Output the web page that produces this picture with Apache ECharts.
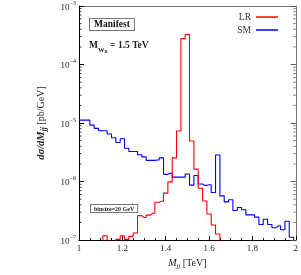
<!DOCTYPE html>
<html><head><meta charset="utf-8">
<script src="https://cdn.jsdelivr.net/npm/echarts@6/dist/echarts.min.js"></script>
<style>html,body{margin:0;padding:0;background:#fff}#c{width:301px;height:275px}</style>
</head><body><div id="c"></div>
<script>
// bin centres in TeV (20 GeV bins)
const binCenters = [1.00,1.02,1.04,1.06,1.08,1.10,1.12,1.14,1.16,1.18,1.20,1.22,1.24,1.26,1.28,1.30,1.32,1.34,1.36,1.38,1.40,1.42,1.44,1.46,1.48,1.50,1.52,1.54,1.56,1.58,1.60,1.62,1.64,1.66,1.68,1.70,1.72,1.74,1.76,1.78,1.80,1.82,1.84,1.86,1.88,1.90,1.92,1.94,1.96,1.98,2.00];
// dσ/dMjj [pb/GeV]
const lrValues = [0,0,0,0,0,0,1.19e-7,0,0,1.03e-7,1.19e-7,1.03e-7,1.16e-7,1.32e-7,2.62e-7,2.43e-7,2.67e-7,2.88e-7,4.44e-7,4.61e-7,6.36e-7,9.9e-7,2.54e-6,7.3e-6,2.77e-4,3.26e-4,4.94e-6,1.63e-6,7.7e-7,4.65e-7,2.8e-7,1.81e-7,1.27e-7,0,0,0,0,0,0,0,0,0,0,0,0,0,0,0,0,0,0];
const smValues = [1.12e-5,1.12e-5,1.12e-5,9.2e-6,8.1e-6,7.4e-6,7.4e-6,6.5e-6,5.6e-6,4.65e-6,5.4e-6,3.7e-6,3.26e-6,3.26e-6,2.88e-6,2.64e-6,2.3e-6,2.3e-6,2.34e-6,2.54e-6,1.33e-6,1.38e-6,1.19e-6,1.19e-6,1.19e-6,1.35e-6,8.7e-7,1.27e-6,9.1e-7,8.6e-7,8.8e-7,6.5e-7,2.84e-6,5.7e-7,4.5e-7,4.9e-7,3.2e-7,3.6e-7,3.3e-7,2.7e-7,2.7e-7,2.47e-7,1.85e-7,2.27e-7,1.85e-7,1.63e-7,1.76e-7,1.5e-7,2.1e-7,1.12e-7,0];
const seriesNames = ['LR','SM'];
const xRange = [1, 2];
const yRange = [1e-7, 1e-3];
const xTickLabels = ['1','1.2','1.4','1.6','1.8','2'];

const FONT = 'Liberation Serif';
const floorV = 1e-9;
function pts(vals){ return binCenters.map((x,i)=>[x, vals[i] > 0 ? vals[i] : floorV]); }

// minor log ticks (2..9 per decade)
const minorTicks = [];
for (let e = -7; e < -3; e++) for (let m = 2; m <= 9; m++) minorTicks.push([xRange[0], m*Math.pow(10,e)]);

const chart = echarts.init(document.getElementById('c'), null, {renderer:'canvas'});
const supRich = {
  b:{fontFamily:FONT,fontSize:9,color:'#222',verticalAlign:'bottom',lineHeight:12},
  e:{fontFamily:FONT,fontSize:6,color:'#222',verticalAlign:'top',lineHeight:7}
};
chart.setOption({
  animation:false,
  grid:{left:79,right:5,top:5,bottom:26},
  legend:{
    data:seriesNames.map(n=>({name:n, icon:'rect'})), orient:'vertical', right:18, top:7, align:'right',
    itemWidth:22, itemHeight:1.5, itemGap:3,
    textStyle:{fontFamily:FONT,fontSize:9.5,color:'#333'}
  },
  xAxis:[{
    type:'value', min:xRange[0], max:xRange[1], interval:0.2,
    axisLine:{lineStyle:{color:'#000',width:1}},
    axisTick:{inside:true,length:4,lineStyle:{color:'#000'}},
    minorTick:{show:true,splitNumber:4,length:2,lineStyle:{color:'#000'}},
    splitLine:{show:false},
    axisLabel:{margin:4,fontFamily:FONT,fontSize:9,color:'#222',
      formatter:(v)=>{const i=Math.round((v-xRange[0])/0.2);return xTickLabels[i]!==undefined?xTickLabels[i]:'';}},
    name:'{i|M}{s|jj}{n| [TeV]}', nameLocation:'middle', nameGap:12,
    nameTextStyle:{rich:{
      i:{fontFamily:FONT,fontStyle:'italic',fontSize:10,color:'#222',verticalAlign:'top',lineHeight:12},
      s:{fontFamily:FONT,fontStyle:'italic',fontSize:7,color:'#222',verticalAlign:'bottom',lineHeight:12},
      n:{fontFamily:FONT,fontSize:10,color:'#222',verticalAlign:'top',lineHeight:12}
    }}
  },{
    type:'value', position:'top', min:xRange[0], max:xRange[1],
    axisLine:{show:true,lineStyle:{color:'#777'}}, axisTick:{show:false}, axisLabel:{show:false}, splitLine:{show:false}
  }],
  yAxis:[{
    type:'log', logBase:10, min:yRange[0], max:yRange[1],
    axisLine:{show:true,lineStyle:{color:'#000'}},
    axisTick:{inside:true,length:5,lineStyle:{color:'#000'}},
    splitLine:{show:false},
    axisLabel:{margin:3,formatter:(v)=>'{b|10}{e|−'+Math.abs(Math.round(Math.log10(v)))+'}',rich:supRich},
    name:'{i|dσ/dM}{s|jj}{n| [pb/GeV]}', nameLocation:'middle', nameGap:31, nameRotate:90,
    nameTextStyle:{rich:{
      i:{fontFamily:FONT,fontStyle:'italic',fontWeight:'bold',fontSize:10.5,color:'#222',verticalAlign:'top',lineHeight:12},
      s:{fontFamily:FONT,fontStyle:'italic',fontWeight:'bold',fontSize:7.5,color:'#222',verticalAlign:'bottom',lineHeight:12},
      n:{fontFamily:FONT,fontSize:10,color:'#222',verticalAlign:'top',lineHeight:12}
    }}
  },{
    type:'log', logBase:10, min:yRange[0], max:yRange[1], position:'right',
    axisLine:{show:true,lineStyle:{color:'#777'}},
    axisTick:{inside:true,length:5,lineStyle:{color:'#555'}},
    axisLabel:{show:false}, splitLine:{show:false}
  }],
  graphic:[
    {type:'text', left:89, top:18, z:10, style:{text:'Manifest', font:'bold 9.5px "Liberation Serif"', fill:'#111',
      padding:[1,4,0,4], borderColor:'#777', borderWidth:1, backgroundColor:'#fff'}},
    {type:'text', left:89, top:41, z:10, style:{text:'{b|M}{s|W}{t|R}{b| = 1.5 TeV}', rich:{
      b:{font:'bold 9.5px "Liberation Serif"',fill:'#222',verticalAlign:'top',lineHeight:12},
      s:{font:'bold 6.5px "Liberation Serif"',fill:'#222',verticalAlign:'bottom',lineHeight:13},
      t:{font:'bold 4.5px "Liberation Serif"',fill:'#222',verticalAlign:'bottom',lineHeight:12}
    }}},
    {type:'text', left:90, top:204, z:10, style:{text:'binsize=20 GeV', font:'bold 6px "Liberation Serif"', fill:'#222',
      padding:[1,3,0,3], borderColor:'#777', borderWidth:1, backgroundColor:'#fff'}}
  ],
  series:[
    {name:seriesNames[0], type:'line', step:'middle', data:pts(lrValues), symbol:'none', clip:true, z:3,
      lineStyle:{color:'#ff0000',width:1.1}, itemStyle:{color:'#ff0000'}},
    {name:seriesNames[1], type:'line', step:'middle', data:pts(smValues), symbol:'none', clip:true, z:2,
      lineStyle:{color:'#0000ff',width:1.1}, itemStyle:{color:'#0000ff'}},
    {type:'custom', data:minorTicks, silent:true, clip:false, z:4,
      renderItem:(params, api)=>{
        const v = api.value(1);
        const pl = api.coord([xRange[0], v]);
        const pr = api.coord([xRange[1], v]);
        return {type:'group', children:[
          {type:'line', shape:{x1:pl[0], y1:pl[1], x2:pl[0]+2.5, y2:pl[1]}, style:{stroke:'#000', lineWidth:0.8}},
          {type:'line', shape:{x1:pr[0], y1:pr[1], x2:pr[0]-2.5, y2:pr[1]}, style:{stroke:'#555', lineWidth:0.8}}
        ]};
      }}
  ]
});
</script></body></html>
